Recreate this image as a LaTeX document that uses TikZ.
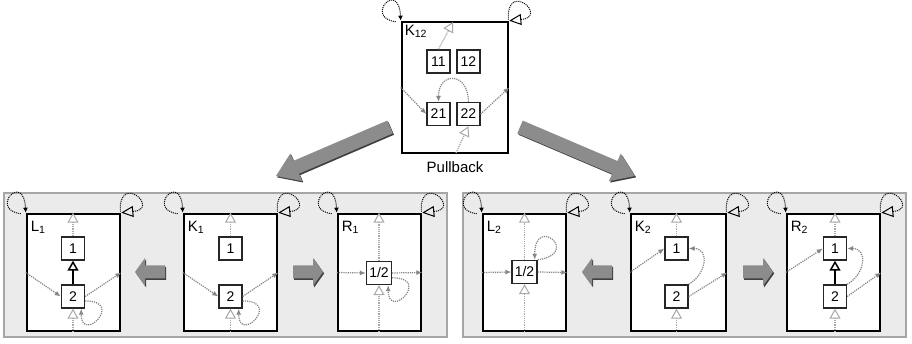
\documentclass[tikz,border=0pt]{standalone}
\usepackage{fontspec}
\setmainfont{Liberation Sans}
\usepackage{xcolor}
\usetikzlibrary{positioning,arrows.meta,shadows}

\definecolor{panelgray}{HTML}{EBEBEB}
\definecolor{flowgray}{HTML}{858585}
\definecolor{ctrlgray}{HTML}{A8A8A8}
\definecolor{arrowgray}{HTML}{8C8C8C}

\begin{document}
\begin{tikzpicture}[x=1pt, y=1pt, font=\fontsize{14}{16}\selectfont,
    panel/.style={draw=black!35, fill=panelgray, line width=1.2pt},
    frame/.style={draw=black, fill=white, line width=2.6pt, inner sep=0pt,
      minimum width=#1, minimum height=117pt},
    frame/.default=93pt,
    elem/.style={draw=black!85, fill=white, line width=1.4pt, inner sep=1pt,
      minimum width=23pt, minimum height=23pt},
    tag/.style={anchor=north west, inner sep=0pt, xshift=5pt, yshift=-8pt,
      font=\fontsize{15}{17}\selectfont},
    flow/.style={flowgray, densely dotted, line width=1.2pt,
      -{Latex[length=6pt,width=5pt]}},
    ctrl/.style={ctrlgray, densely dotted, line width=1.2pt,
      -{Triangle[open,length=10pt,width=11pt,line width=1pt]}},
    morph/.style={black, line width=1.5pt,
      -{Triangle[open,length=10pt,width=11pt]}},
    cornerin/.style={black, densely dotted, line width=1pt,
      -{Latex[length=5pt,width=5pt]}},
    cornerout/.style={black, densely dotted, line width=1pt,
      -{Triangle[open,length=12pt,width=11pt,line width=1pt]}},
    blockarrow/.style={fill=arrowgray,
      drop shadow={shadow xshift=1.2pt, shadow yshift=-1.4pt, fill=black!75, opacity=1}}
  ]
  \useasboundingbox (0,0) rectangle (912,344);

  % the two spans
  \draw[panel] (4,7) rectangle (447,151);
  \draw[panel] (463,7) rectangle (906,151);

  % big arrows out of the pullback
  \fill[blockarrow] (392.8,210.6) -- (299.0,170.3) -- (302.1,162.9) -- (276,168)
    -- (290.3,190.5) -- (293.4,183.1) -- (387.2,223.4) -- cycle;
  \fill[blockarrow] (522.7,223.4) -- (617.5,183.0) -- (620.7,190.4) -- (635,168)
    -- (608.9,162.8) -- (612.1,170.2) -- (517.3,210.6) -- cycle;

  % frames
  \node[frame=106pt, minimum height=131pt] (K12) at (455,256.5) {};
  \node[frame] (L1) at (73.5,71.5) {};
  \node[frame] (K1) at (230.5,71.5) {};
  \node[frame=83pt] (R1) at (379.5,71.5) {};
  \node[frame=83pt] (L2) at (524.5,71.5) {};
  \node[frame=95pt] (K2) at (678.5,71.5) {};
  \node[frame] (R2) at (833.5,71.5) {};

  \node[tag, xshift=-1pt, yshift=4pt] (K12-tag) at (K12.north west) {K\textsubscript{12}};
  \node[tag] (L1-tag) at (L1.north west) {L\textsubscript{1}};
  \node[tag] (K1-tag) at (K1.north west) {K\textsubscript{1}};
  \node[tag] (R1-tag) at (R1.north west) {R\textsubscript{1}};
  \node[tag] (L2-tag) at (L2.north west) {L\textsubscript{2}};
  \node[tag] (K2-tag) at (K2.north west) {K\textsubscript{2}};
  \node[tag] (R2-tag) at (R2.north west) {R\textsubscript{2}};

  \node[below=4pt of K12, font=\fontsize{15}{17}\selectfont] (pull) {Pullback};

  % loops on the frame corners
  \foreach \f in {K12,L1,K1,R1,L2,K2,R2} {
    \draw[cornerin] ([xshift=-5pt,yshift=-1pt]\f.north west)
      .. controls +(-32pt,4pt) and +(-2pt,42pt) .. (\f.north west);
    \draw[cornerout] ([xshift=-1pt,yshift=1pt]\f.north east)
      .. controls +(-2pt,40pt) and +(40pt,4pt) .. (\f.north east);
  }

  % K12
  \node[elem] (K12-11) at (438.5,282.5) {11};
  \node[elem, right=5.5pt of K12-11] (K12-12) {12};
  \node[elem] (K12-21) at (438.5,230) {21};
  \node[elem, right=5.5pt of K12-21] (K12-22) {22};
  \coordinate (k12top) at (453,322);
  \coordinate (k12bot) at (456,191);
  \draw[ctrl] (K12-11.north) -- (k12top);
  \draw[flow] (K12.west) -- (K12-21.west);
  \draw[flow] (K12-22.north) to[out=90, in=90, looseness=2.6] (K12-21.north);
  \draw[flow] (K12-22.east) -- (K12.east);
  \draw[ctrl] (k12bot) -- (K12-22.south);

  % L1
  \node[elem] (L1-1) at (73,95.5) {1};
  \node[elem, below=23.6pt of L1-1] (L1-2) {2};
  \draw[ctrl] (L1-1.north) -- (L1-1.north |- L1.north);
  \draw[morph] (L1-2.north) -- (L1-1.south);
  \draw[flow] (L1.west) -- (L1-2.west);
  \draw[flow] (L1-2.east) -- (L1.east);
  \draw[ctrl] (L1-2.south |- L1.south) -- (L1-2.south);
  \draw[flow] (L1-2.-20) .. controls +(40pt,0pt) and +(0pt,-36pt) .. ([xshift=-4pt]L1-2.south east);

  % K1
  \node[elem] (K1-1) at (230.5,95.5) {1};
  \node[elem, below=23.6pt of K1-1] (K1-2) {2};
  \draw[ctrl] (K1-1.north) -- (K1-1.north |- K1.north);
  \draw[flow] (K1.west) -- (K1-2.west);
  \draw[flow] (K1-2.east) -- (K1.east);
  \draw[ctrl] (K1-2.south |- K1.south) -- (K1-2.south);
  \draw[flow] (K1-2.-20) .. controls +(40pt,0pt) and +(0pt,-36pt) .. ([xshift=-4pt]K1-2.south east);

  % R1
  \node[elem, minimum width=25pt] (R1-12) at (379,71) {1/2};
  \draw[ctrl] (R1-12.north) -- (R1-12.north |- R1.north);
  \draw[flow] (R1.west) -- (R1-12.west);
  \draw[flow] (R1-12.east) -- (R1.east);
  \draw[ctrl] (R1-12.south |- R1.south) -- (R1-12.south);
  \draw[flow] (R1-12.-20) .. controls +(40pt,0pt) and +(0pt,-36pt) .. ([xshift=-4pt]R1-12.south east);

  % L2
  \node[elem, minimum width=25pt] (L2-12) at (524.5,72) {1/2};
  \draw[ctrl] (L2-12.north) -- (L2-12.north |- L2.north);
  \draw[flow] (L2.west) -- (L2-12.west);
  \draw[flow] (L2-12.east) -- (L2.east);
  \draw[ctrl] (L2-12.south |- L2.south) -- (L2-12.south);
  \draw[flow] (L2-12.north east) .. controls +(44pt,6pt) and +(0pt,46pt) .. ([xshift=-3pt]L2-12.north east);

  % K2
  \node[elem] (K2-1) at (676.5,95.5) {1};
  \node[elem, below=23.6pt of K2-1] (K2-2) {2};
  \draw[ctrl] (K2-1.north) -- (K2-1.north |- K2.north);
  \draw[flow] (K2.west) -- (K2-1.west);
  \draw[flow] (K2-2.north east) to[out=30, in=0, looseness=1.5] (K2-1.east);
  \draw[flow] (K2-2.east) -- (K2.east);
  \draw[ctrl] (K2-2.south |- K2.south) -- (K2-2.south);

  % R2
  \node[elem] (R2-1) at (835,95.5) {1};
  \node[elem, below=23.6pt of R2-1] (R2-2) {2};
  \draw[ctrl] (R2-1.north) -- (R2-1.north |- R2.north);
  \draw[morph] (R2-2.north) -- (R2-1.south);
  \draw[flow] (R2.west) -- (R2-1.west);
  \draw[flow] (R2-2.north east) to[out=30, in=0, looseness=1.5] (R2-1.east);
  \draw[flow] (R2-2.east) -- (R2.east);
  \draw[ctrl] (R2-2.south |- R2.south) -- (R2-2.south);

  % arrows between the frames of each span
  \foreach \x/\d in {165/-1, 293/1, 612/-1, 743/1}
    \fill[blockarrow] (\x,65.5) -- ++(20*\d,0) -- ++(0,-7.5) -- ++(10*\d,14)
      -- ++(-10*\d,14) -- ++(0,-7.5) -- ++(-20*\d,0) -- cycle;
\end{tikzpicture}
\end{document}
